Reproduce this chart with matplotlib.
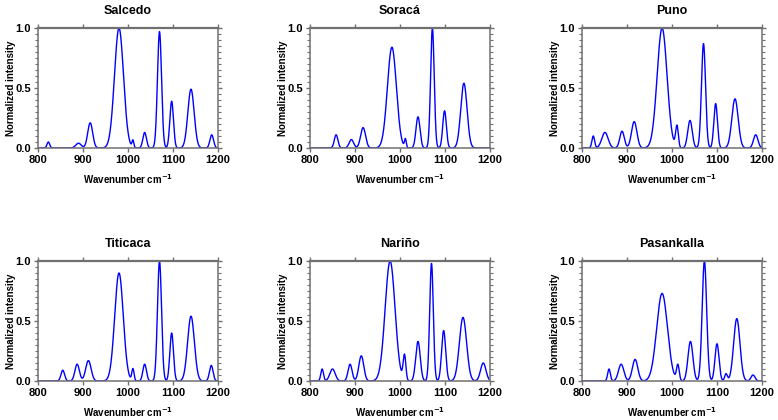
import numpy as np
import matplotlib
matplotlib.use("Agg")
import matplotlib.pyplot as plt
from matplotlib.ticker import MultipleLocator

plt.rcParams['font.family'] = ['Liberation Sans', 'DejaVu Sans']
plt.rcParams['font.weight'] = 'bold'

# Band parameters: centre (cm-1), height, width (sigma)
names = ['Salcedo', 'Soracá', 'Puno', 'Titicaca', 'Nariño', 'Pasankalla']

salcedo_pos = [823, 890, 916, 980, 1011, 1037, 1070, 1097, 1140, 1186]
salcedo_amp = [0.05, 0.04, 0.21, 1.00, 0.06, 0.13, 0.97, 0.39, 0.49, 0.11]
salcedo_wid = [3, 6, 5.5, 10, 2, 4, 4.5, 4, 7, 4]

soraca_pos = [858, 892, 918, 982, 1012, 1040, 1072, 1099, 1142]
soraca_amp = [0.11, 0.07, 0.17, 0.84, 0.07, 0.26, 1.00, 0.31, 0.54]
soraca_wid = [4, 5, 5.5, 10, 2, 4.5, 4, 4, 7]

puno_pos = [825, 851, 889, 916, 978, 1011, 1040, 1070, 1097, 1140, 1186]
puno_amp = [0.10, 0.13, 0.14, 0.22, 1.00, 0.18, 0.23, 0.87, 0.37, 0.41, 0.11]
puno_wid = [3, 7, 5, 6, 11, 3, 5, 4.5, 4, 7, 5]

titicaca_pos = [855, 887, 912, 980, 1011, 1037, 1070, 1097, 1140, 1185]
titicaca_amp = [0.09, 0.14, 0.17, 0.90, 0.10, 0.14, 1.00, 0.40, 0.54, 0.13]
titicaca_wid = [4, 5, 6, 9.5, 2.5, 4, 4.5, 4, 7.5, 4]

narino_pos = [827, 850, 889, 914, 978, 1010, 1040, 1070, 1097, 1140, 1185]
narino_amp = [0.10, 0.10, 0.14, 0.21, 1.00, 0.21, 0.33, 0.98, 0.42, 0.53, 0.15]
narino_wid = [3, 6, 4.5, 5.5, 11, 3, 5, 4, 4.5, 8, 6]

pasankalla_pos = [860, 887, 918, 978, 1013, 1041, 1072, 1100, 1120, 1144, 1180]
pasankalla_amp = [0.10, 0.14, 0.18, 0.73, 0.13, 0.33, 1.00, 0.31, 0.06, 0.52, 0.05]
pasankalla_wid = [3, 6, 6, 12, 3, 5.5, 5, 4.5, 3, 7, 4.5]

bands = [
    (salcedo_pos, salcedo_amp, salcedo_wid),
    (soraca_pos, soraca_amp, soraca_wid),
    (puno_pos, puno_amp, puno_wid),
    (titicaca_pos, titicaca_amp, titicaca_wid),
    (narino_pos, narino_amp, narino_wid),
    (pasankalla_pos, pasankalla_amp, pasankalla_wid),
]

wn = np.linspace(800, 1200, 2001)


def spectrum(pos, amp, wid):
    y = np.zeros_like(wn)
    for p, a, w in zip(pos, amp, wid):
        y += a * np.exp(-0.5 * ((wn - p) / w) ** 2)
    return y


fig = plt.figure(figsize=(7.78, 4.2), dpi=100)

lefts = [38 / 778, 310 / 778, 582 / 778]
bottoms = [(420 - 148) / 420, (420 - 381) / 420]
w, h = 180 / 778, 120 / 420

spine_col = '#707070'

for i, (name, (pos, amp, wid)) in enumerate(zip(names, bands)):
    ax = fig.add_axes([lefts[i % 3], bottoms[i // 3], w, h])
    ax.plot(wn, spectrum(pos, amp, wid), color='#0000ff', lw=1)
    ax.set_xlim(800, 1200)
    ax.set_ylim(0, 1)
    ax.set_xticks([800, 900, 1000, 1100, 1200])
    ax.set_yticks([0, 0.5, 1.0])
    ax.set_yticklabels(['0.0', '0.5', '1.0'])
    ax.yaxis.set_minor_locator(MultipleLocator(0.05))

    for s in ax.spines.values():
        s.set_color(spine_col)
        s.set_linewidth(1.1)
    ax.spines['top'].set_linewidth(1.6)

    ax.tick_params(axis='x', which='major', length=3, width=1,
                   color=spine_col, labelsize=8, pad=2)
    ax.tick_params(axis='x', which='major', top=True, direction='inout')
    ax.tick_params(axis='x', which='major', bottom=True, direction='out')
    ax.tick_params(axis='y', which='major', direction='out', length=3,
                   width=1, color=spine_col, labelsize=8, pad=2, right=True)
    ax.tick_params(axis='y', which='minor', direction='out', length=2,
                   width=0.8, color=spine_col, right=True)
    for lab in ax.get_xticklabels() + ax.get_yticklabels():
        lab.set_fontweight('bold')

    ax.set_title(name, fontsize=9, fontweight='bold', pad=10)
    ax.set_xlabel('Wavenumber cm$^{\\mathbf{-1}}$', fontsize=7,
                  fontweight='bold')
    ax.set_ylabel('Normalized intensity', fontsize=7, fontweight='bold')
    ax.xaxis.set_label_coords(0.5, -0.2)
    ax.yaxis.set_label_coords(-0.12, 0.5)

fig.savefig('out.png', dpi=100)
